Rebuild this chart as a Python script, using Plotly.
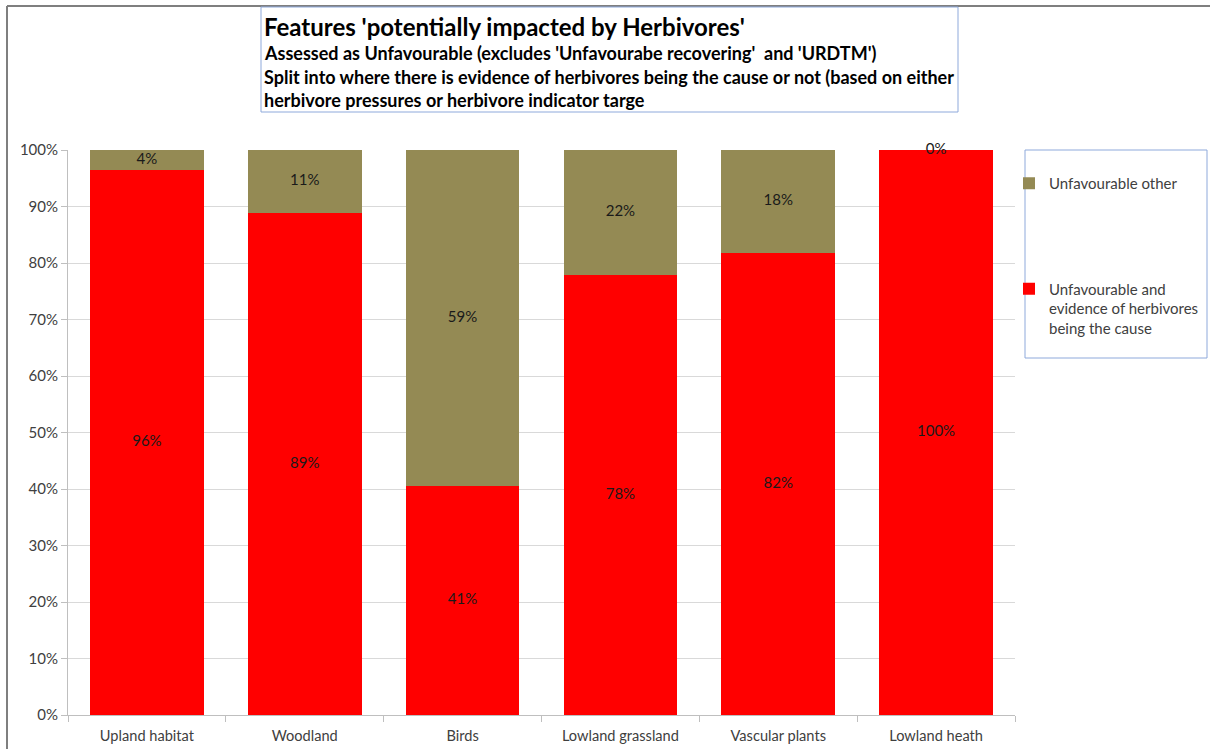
import plotly.graph_objects as go

categories = ["Upland habitat", "Woodland", "Birds", "Lowland grassland", "Vascular plants", "Lowland heath"]
herbivore_cause = [96.4, 88.9, 40.6, 77.8, 81.8, 100.0]
other = [round(100 - v, 1) for v in herbivore_cause]
herbivore_labels = ["96%", "89%", "41%", "78%", "82%", "100%"]
other_labels = ["4%", "11%", "59%", "22%", "18%", "0%"]
y_ticks = list(range(0, 101, 10))
y_tick_text = [f"{v}%" for v in y_ticks]

RED = "#FF0000"
OLIVE = "#948A54"
FONT = "Lato, Carlito, Calibri, sans-serif"
BOX = "#8EA9DB"
TXT = "#404040"

fig = go.Figure()
fig.add_trace(go.Bar(
    x=categories, y=herbivore_cause, name="Unfavourable and<br>evidence of herbivores<br>being the cause",
    marker=dict(color=RED, line=dict(width=0)), legendgroup="a", legendrank=2, hoverinfo="skip"))
fig.add_trace(go.Bar(
    x=categories, y=other, name="Unfavourable other",
    marker=dict(color=OLIVE, line=dict(width=0)), legendgroup="b", legendrank=1, hoverinfo="skip"))

# data labels centred in each segment
fig.add_trace(go.Scatter(
    x=categories, y=[v / 2 for v in herbivore_cause], text=herbivore_labels,
    mode="text", textfont=dict(family=FONT, size=15, color="#1a1a1a"), showlegend=False,
    hoverinfo="skip", cliponaxis=False))
fig.add_trace(go.Scatter(
    x=categories, y=[h + o / 2 for h, o in zip(herbivore_cause, other)], text=other_labels,
    mode="text", textfont=dict(family=FONT, size=15, color="#1a1a1a"), showlegend=False,
    hoverinfo="skip", cliponaxis=False))

L, R, T, B = 68, 195, 150, 34
W, H = 1210, 749
pw, ph = W - L - R, H - T - B

def px(x):
    return (x - L) / pw

def py(y):
    return (H - B - y) / ph

fig.update_layout(
    width=W, height=H,
    margin=dict(l=L, r=R, t=T, b=B, autoexpand=False),
    paper_bgcolor="white", plot_bgcolor="white",
    barmode="stack", bargap=0.28,
    font=dict(family=FONT, size=15, color=TXT),
    showlegend=True,
    legend=dict(
        xref="container", yref="container",
        x=1009 / W, y=1 - 167 / H, xanchor="left", yanchor="top",
        traceorder="grouped", tracegroupgap=83, valign="top",
        font=dict(family=FONT, size=15, color=TXT),
        bgcolor="rgba(0,0,0,0)", borderwidth=0,
        itemwidth=30,
    ),
    xaxis=dict(
        showline=True, linecolor="#BFBFBF", linewidth=1,
        ticks="outside", tickson="boundaries", ticklen=6, tickcolor="#BFBFBF",
        tickfont=dict(family=FONT, size=14.6, color=TXT),
        ticklabelstandoff=7,
        showgrid=False,
    ),
    yaxis=dict(
        range=[0, 100], tickvals=y_ticks, ticktext=y_tick_text,
        showline=True, linecolor="#BFBFBF", linewidth=1,
        ticks="outside", ticklen=6, tickcolor="#BFBFBF",
        showgrid=True, gridcolor="#D9D9D9", gridwidth=1,
        zeroline=False,
        tickfont=dict(family=FONT, size=15, color=TXT),
    ),
)

shapes = [
    # outer frame (top and left edges)
    dict(type="line", xref="paper", yref="paper", x0=px(7), x1=px(1210), y0=py(6), y1=py(6),
         line=dict(color="#7F7F7F", width=2)),
    dict(type="line", xref="paper", yref="paper", x0=px(7), x1=px(7), y0=py(6), y1=py(749),
         line=dict(color="#7F7F7F", width=2)),
    # title box
    dict(type="rect", xref="paper", yref="paper", x0=px(261), x1=px(958), y0=py(112), y1=py(7),
         line=dict(color=BOX, width=1), fillcolor="white"),
    # legend box
    dict(type="rect", xref="paper", yref="paper", x0=px(1025), x1=px(1207), y0=py(358), y1=py(150),
         line=dict(color=BOX, width=1)),
]
fig.update_layout(shapes=shapes)

title_lines = [
    ("Features 'potentially impacted by Herbivores'", 24, 26),
    ("Assessed as Unfavourable (excludes 'Unfavourabe recovering'  and 'URDTM')", 18, 53),
    ("Split into where there is evidence of herbivores being the cause or not (based on either", 18, 77),
    ("herbivore pressures or herbivore indicator targe", 18, 100),
]
for text, size, y in title_lines:
    fig.add_annotation(xref="paper", yref="paper", x=px(262), y=py(y), xanchor="left", yanchor="middle",
                       text="<b>" + text + "</b>", showarrow=False,
                       font=dict(family=FONT, size=size, color="#000"))

fig.write_html("out.html", post_script="document.body.style.margin='0';",
               config={"displayModeBar": False})
